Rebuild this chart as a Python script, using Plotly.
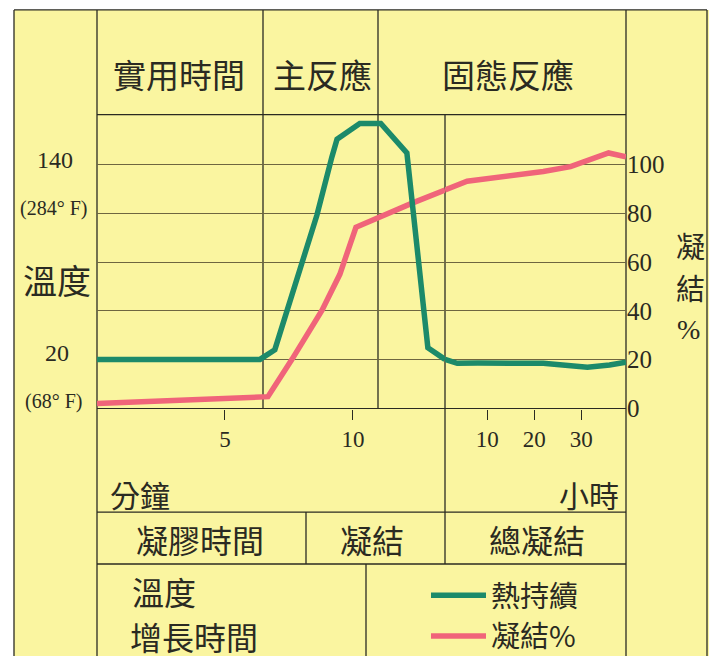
import plotly.graph_objects as go

W, H = 717, 670
OFF = 8  # the page body has an 8px margin; the figure is drawn from (8, 8)
FW, FH = W - OFF, H - OFF

# ---------------- data ----------------
# minutes part (left, "分鐘")
temp_min_x = [0, 6.37, 6.95, 7.42, 7.85, 8.40, 8.59, 9.18, 9.38, 10.27, 11.09, 12.11, 12.34, 12.62, 12.93, 13.6]
temp_min_y = [20, 20, 26.0, 50.2, 72.5, 98.4, 108.7, 144.8, 155.7, 165.4, 165.4, 147.3, 114.7, 72.5, 27.2, 20.0]
# hours part (right, "小時")
temp_hr_x = [1.0, 3.6, 8.0, 15.0, 21.9, 26.0, 31.3, 36.0, 39.5]
temp_hr_y = [20.0, 17.6, 17.8, 17.8, 17.6, 16.5, 15.2, 16.5, 18.2]

cure_min_x = [0, 5.12, 6.68, 7.62, 8.79, 9.49, 10.12, 12.34, 13.6]
cure_min_y = [2.0, 4.0, 4.8, 20.1, 40.2, 55.0, 74.3, 84.3, 89.6]
cure_hr_x = [1.0, 5.7, 21.9, 27.7, 35.8, 39.5]
cure_hr_y = [89.6, 93.2, 97.2, 99.2, 104.8, 103.2]

min_ticks = [5, 10]
hr_ticks = [10, 20, 30]
pct_ticks = [0, 20, 40, 60, 80, 100]

# ---------------- style ----------------
YELLOW = "#FAF5A0"
GREEN = "#1C8A6A"
PINK = "#F0647A"
INK = "#2a2a22"
GRID = "#6e6640"
CJK = "Noto Sans CJK TC"
SERIF = "Liberation Serif"


def px(x):
    return (x - OFF) / FW


def py(y):
    return 1 - (y - OFF) / FH


fig = go.Figure()
fig.add_trace(go.Scatter(x=temp_min_x, y=temp_min_y, xaxis="x", yaxis="y3", mode="lines",
                         line=dict(color=GREEN, width=5.5), name="熱持續", showlegend=True))
fig.add_trace(go.Scatter(x=temp_hr_x, y=temp_hr_y, xaxis="x2", yaxis="y3", mode="lines",
                         line=dict(color=GREEN, width=5.5), name="熱持續", showlegend=False))
fig.add_trace(go.Scatter(x=cure_min_x, y=cure_min_y, xaxis="x", yaxis="y", mode="lines",
                         line=dict(color=PINK, width=5.5), name="凝結%", showlegend=True))
fig.add_trace(go.Scatter(x=cure_hr_x, y=cure_hr_y, xaxis="x2", yaxis="y", mode="lines",
                         line=dict(color=PINK, width=5.5), name="凝結%", showlegend=False))

ydom = [py(417), py(117)]
tickfont = dict(family=SERIF, size=23, color=INK)

shapes = [dict(type="rect", xref="paper", yref="paper", x0=px(14), x1=1, y0=0, y1=py(10),
               fillcolor=YELLOW, line=dict(width=0), layer="below")]


def seg(x0, y0, x1, y1, w=1.3):
    shapes.append(dict(type="line", xref="paper", yref="paper", x0=px(x0), y0=py(y0),
                       x1=px(x1), y1=py(y1), line=dict(color=INK, width=w), layer="below"))


seg(14, 10, 707, 10)
seg(14, 10, 14, 670)
seg(707, 10, 707, 670)
seg(97, 10, 97, 670)
seg(626, 10, 626, 670)
seg(97, 117, 626, 117)
seg(263, 10, 263, 417)
seg(378, 10, 378, 417)
seg(445, 117, 445, 576)
seg(97, 523, 626, 523)
seg(97, 576, 626, 576)
seg(306, 523, 306, 576)
seg(366, 576, 366, 670)

annotations = []


def ann(text, x, y, size, family=CJK, xanchor="center"):
    annotations.append(dict(text=text, x=px(x), y=py(y), xref="paper", yref="paper",
                            xanchor=xanchor, yanchor="middle", showarrow=False,
                            font=dict(family=family, size=size, color=INK)))


ann("實用時間", 179, 75, 33)
ann("主反應", 322, 75, 33)
ann("固態反應", 508, 75, 33)
ann("140", 55, 163, 24, SERIF)
ann("(284° F)", 53, 213, 20, SERIF)
ann("溫度", 57, 285, 34)
ann("20", 57, 360, 24, SERIF)
ann("(68° F)", 53, 410, 20, SERIF)
ann("凝", 690, 250, 29)
ann("結", 690, 293, 29)
ann("%", 688, 336, 28, SERIF)
ann("分鐘", 108, 505, 30, xanchor="left")
ann("小時", 621, 505, 30, xanchor="right")
ann("凝膠時間", 200, 550, 32)
ann("凝結", 372, 550, 32)
ann("總凝結", 537, 550, 32)
ann("溫度", 130, 604, 32, xanchor="left")
ann("增長時間", 128, 650, 32, xanchor="left")

fig.update_layout(
    width=FW, height=FH, autosize=False,
    margin=dict(l=0, r=0, t=0, b=0, pad=0),
    paper_bgcolor="white", plot_bgcolor="rgba(0,0,0,0)",
    xaxis=dict(domain=[px(97), px(445)], range=[0, 13.6], anchor="y",
               tickvals=min_ticks, ticks="outside", ticklen=10, tickcolor=INK, tickwidth=1,
               showgrid=False, zeroline=False, showline=True, linecolor=INK, linewidth=1.3,
               tickfont=tickfont),
    xaxis2=dict(domain=[px(445), px(626)], range=[1.0, 39.5], anchor="y",
                tickvals=hr_ticks, ticks="outside", ticklen=10, tickcolor=INK, tickwidth=1,
                showgrid=False, zeroline=False, showline=True, linecolor=INK, linewidth=1.3,
                tickfont=tickfont),
    yaxis=dict(domain=ydom, range=[0, 120.5], anchor="x2", side="right",
               tickvals=pct_ticks, ticks="", showgrid=True, gridcolor=GRID, gridwidth=1.2,
               zeroline=False, showline=False,
               tickfont=dict(family=SERIF, size=25, color=INK)),
    yaxis3=dict(domain=ydom, range=[-10.16, 170.8], overlaying="y", anchor="x",
                visible=False, showgrid=False, zeroline=False),
    legend=dict(x=px(426), y=py(582), xanchor="left", yanchor="top",
                bgcolor="rgba(0,0,0,0)", borderwidth=0, itemwidth=55,
                font=dict(family=CJK, size=29, color=INK)),
    shapes=shapes,
    annotations=annotations,
)

fig.write_html("out.html", config={"displayModeBar": False})
